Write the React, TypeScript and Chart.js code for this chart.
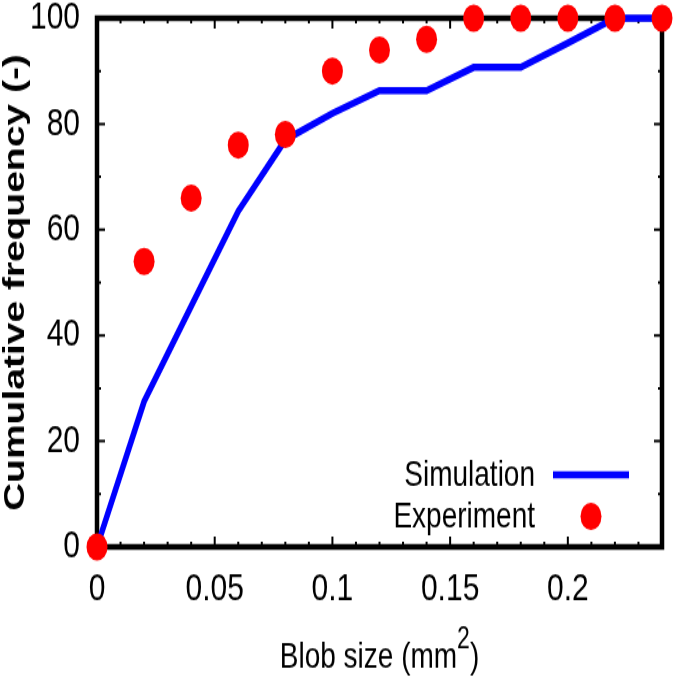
import React, { useEffect, useRef } from 'react';
import { Chart, registerables } from 'chart.js';

Chart.register(...registerables);

// ---- data ----
const xValues = [0, 0.02, 0.04, 0.06, 0.08, 0.1, 0.12, 0.14, 0.16, 0.18, 0.2, 0.22, 0.24];
const simulationValues = [0, 27.5, 45.5, 63.5, 77, 82, 86.3, 86.3, 90.7, 90.7, 95.3, 100, 100];
const experimentValues = [0, 54, 66, 76, 78, 90, 94, 96, 100, 100, 100, 100, 100];
const xTicks = [0, 0.05, 0.1, 0.15, 0.2];
const xTickLabels = ['0', '0.05', '0.1', '0.15', '0.2'];
const yTicks = [0, 20, 40, 60, 80, 100];
const yTickLabels = ['0', '20', '40', '60', '80', '100'];
const xMinorTicks = [0.01, 0.02, 0.03, 0.04, 0.06, 0.07, 0.08, 0.09, 0.11, 0.12, 0.13, 0.14, 0.16, 0.17, 0.18, 0.19, 0.21, 0.22, 0.23];
const yMinorTicks = [10, 30, 50, 70, 90];
const seriesLabels = ['Simulation', 'Experiment'];
const xTitleParts = ['Blob size (mm', '2', ')']; // text, superscript, text
const yTitle = 'Cumulative frequency (-)';

const FONT = '"Liberation Sans", Arial, Helvetica, sans-serif';
const BLUE = '#0000ff';
const RED = '#ff0000';

// The picture is drawn at a lower height and stretched vertically (as in the reference).
const W = 675;
const H = 525;
const STRETCH = 682 / H;

const framePlugin = {
  id: 'gnuFrame',
  beforeDatasetsDraw(chart: any) {
    const { ctx, chartArea } = chart;
    const { left, right, top, bottom } = chartArea;
    const xs = chart.scales.x;
    const ys = chart.scales.y;
    ctx.save();
    ctx.strokeStyle = '#000';
    ctx.lineWidth = 2;
    const tickX = (v: number, len: number) => {
      const px = xs.getPixelForValue(v);
      ctx.beginPath();
      ctx.moveTo(px, bottom);
      ctx.lineTo(px, bottom - len);
      ctx.moveTo(px, top);
      ctx.lineTo(px, top + len);
      ctx.stroke();
    };
    const tickY = (v: number, len: number) => {
      const py = ys.getPixelForValue(v);
      ctx.beginPath();
      ctx.moveTo(left, py);
      ctx.lineTo(left + len, py);
      ctx.moveTo(right, py);
      ctx.lineTo(right - len, py);
      ctx.stroke();
    };
    xTicks.forEach((v) => tickX(v, 8));
    xMinorTicks.forEach((v) => tickX(v, 4));
    yTicks.forEach((v) => tickY(v, 8));
    yMinorTicks.forEach((v) => tickY(v, 4));
    ctx.lineWidth = 4.5;
    ctx.strokeRect(left, top, right - left, bottom - top);
    ctx.restore();
  },
};

const xTitlePlugin = {
  id: 'xTitleSup',
  afterDraw(chart: any) {
    const { ctx, chartArea } = chart;
    ctx.save();
    ctx.fillStyle = '#000';
    ctx.textBaseline = 'alphabetic';
    ctx.textAlign = 'left';
    const mainFont = `28px ${FONT}`;
    const supFont = `23px ${FONT}`;
    ctx.font = mainFont;
    const w0 = ctx.measureText(xTitleParts[0]).width;
    const w2 = ctx.measureText(xTitleParts[2]).width;
    ctx.font = supFont;
    const w1 = ctx.measureText(xTitleParts[1]).width;
    const total = w0 + w1 + w2;
    const cx = (chartArea.left + chartArea.right) / 2;
    const baseline = chart.height - 11.5;
    let x = cx - total / 2;
    ctx.font = mainFont;
    ctx.fillText(xTitleParts[0], x, baseline);
    x += w0;
    ctx.font = supFont;
    ctx.fillText(xTitleParts[1], x, baseline - 14.5);
    x += w1;
    ctx.font = mainFont;
    ctx.fillText(xTitleParts[2], x, baseline);
    ctx.restore();
  },
};

const legendPlugin = {
  id: 'gnuLegend',
  afterDatasetsDraw(chart: any) {
    const { ctx, chartArea } = chart;
    const datasets = chart.data.datasets;
    ctx.save();
    ctx.font = `28px ${FONT}`;
    ctx.textAlign = 'right';
    ctx.textBaseline = 'middle';
    datasets.forEach((d: any, i: number) => {
      const yc = chartArea.bottom - 55.5 + i * 32;
      ctx.fillStyle = '#000';
      ctx.fillText(d.label, chartArea.right - 127, yc + 1);
      const cx = chartArea.right - 71;
      if (d.showLine) {
        ctx.strokeStyle = d.borderColor;
        ctx.lineWidth = d.borderWidth;
        ctx.beginPath();
        ctx.moveTo(cx - 38, yc);
        ctx.lineTo(cx + 38, yc);
        ctx.stroke();
      } else {
        ctx.fillStyle = d.backgroundColor;
        ctx.beginPath();
        ctx.arc(cx, yc, d.pointRadius, 0, Math.PI * 2);
        ctx.fill();
      }
    });
    ctx.restore();
  },
};

export default function App() {
  const canvasRef = useRef<HTMLCanvasElement | null>(null);

  useEffect(() => {
    if (!canvasRef.current) return;
    const tickFont = { family: FONT, size: 30 };
    const chart = new Chart(canvasRef.current, {
      type: 'scatter',
      data: {
        datasets: [
          {
            label: seriesLabels[0],
            data: xValues.map((x, i) => ({ x, y: simulationValues[i] })),
            showLine: true,
            borderColor: BLUE,
            backgroundColor: BLUE,
            borderWidth: 5.5,
            pointRadius: 0,
            tension: 0,
            clip: false as any,
            order: 1,
          },
          {
            label: seriesLabels[1],
            data: xValues.map((x, i) => ({ x, y: experimentValues[i] })),
            showLine: false,
            pointStyle: 'circle',
            pointRadius: 10.5,
            pointBorderWidth: 0,
            borderWidth: 0,
            backgroundColor: RED,
            borderColor: RED,
            clip: false as any,
            order: 0,
          },
        ],
      },
      options: {
        responsive: false,
        animation: false,
        devicePixelRatio: 1,
        layout: { padding: { top: 14, right: 13, left: 0, bottom: 0 } },
        plugins: { legend: { display: false }, tooltip: { enabled: false } },
        scales: {
          x: {
            type: 'linear',
            min: 0,
            max: 0.24,
            afterBuildTicks: (s: any) => {
              s.ticks = xTicks.map((v) => ({ value: v }));
            },
            afterFit: (s: any) => {
              s.height = 104;
              s.paddingLeft = 0;
              s.paddingRight = 0;
            },
            ticks: {
              autoSkip: false,
              maxRotation: 0,
              padding: 15,
              color: '#000',
              font: tickFont,
              callback: (v: any) => xTickLabels[xTicks.indexOf(Number(v))] ?? '',
            },
            grid: { display: false, drawTicks: false },
            border: { display: false },
            title: { display: false },
          },
          y: {
            type: 'linear',
            min: 0,
            max: 100,
            afterBuildTicks: (s: any) => {
              s.ticks = yTicks.map((v) => ({ value: v }));
            },
            afterFit: (s: any) => {
              s.width = 97;
              s.paddingTop = 0;
              s.paddingBottom = 0;
            },
            ticks: {
              autoSkip: false,
              padding: 17,
              color: '#000',
              font: tickFont,
              callback: (v: any) => yTickLabels[yTicks.indexOf(Number(v))] ?? '',
            },
            grid: { display: false, drawTicks: false },
            border: { display: false },
            title: {
              display: true,
              text: yTitle,
              color: '#000',
              font: { family: FONT, size: 30, weight: 'bold', lineHeight: 1 },
              padding: { top: 0.5, bottom: 0 },
            },
          },
        },
      },
      plugins: [framePlugin, legendPlugin, xTitlePlugin],
    });
    return () => chart.destroy();
  }, []);

  return (
    <div style={{ position: 'absolute', left: 0, top: 0, width: 675, height: 682, overflow: 'hidden', background: '#fff' }}>
      <div style={{ width: W, height: H, transform: `scaleY(${STRETCH})`, transformOrigin: '0 0' }}>
        <canvas ref={canvasRef} width={W} height={H} style={{ width: W, height: H, display: 'block' }} />
      </div>
    </div>
  );
}
